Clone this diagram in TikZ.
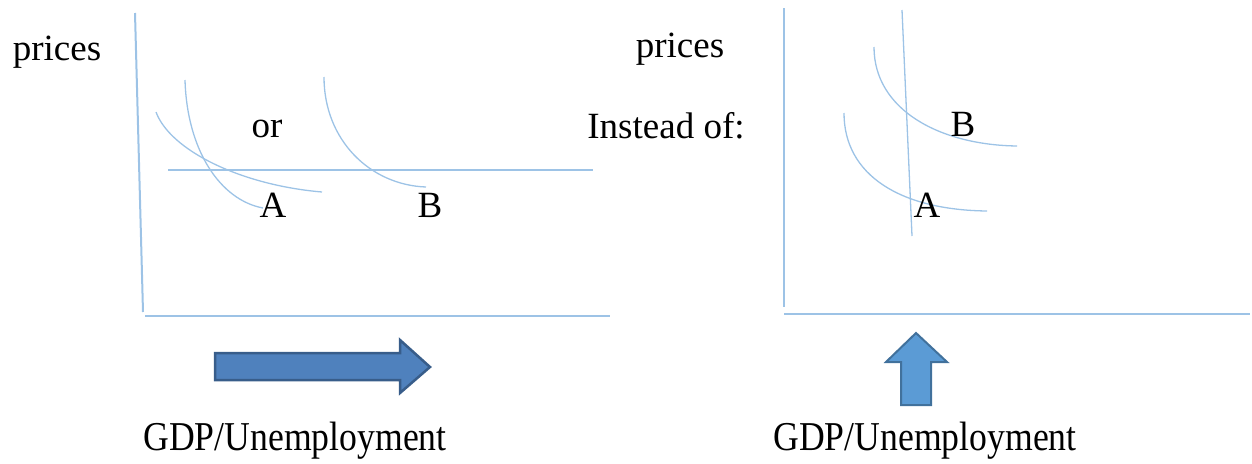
\documentclass[tikz,border=0pt]{standalone}
\usepackage{fontspec}
\setmainfont{Liberation Serif}
\definecolor{axisblue}{HTML}{9DC3E6}
\definecolor{curveblue}{HTML}{9DC3E6}
\definecolor{boldfill}{HTML}{4F81BD}
\definecolor{boldline}{HTML}{385D8A}
\definecolor{lightfill}{HTML}{5B9BD5}
\definecolor{lightline}{HTML}{41719C}
\begin{document}
\begin{tikzpicture}
  [x=1pt,y=-1pt,
   axis/.style={draw=axisblue,line width=2pt},
   curve/.style={draw=curveblue,line width=1.3pt},
   label/.style={anchor=base,inner sep=0pt,font=\fontsize{37}{40}\selectfont},
   tall label/.style={anchor=base,inner sep=0pt,font=\fontsize{41}{44}\selectfont},
   shift arrow/.style={line width=2.5pt,line join=miter}]
  \useasboundingbox (0,0) rectangle (1252,463);
  % left graph
  \draw[axis] (135,13) -- (143,312);
  \draw[axis] (145,316) -- (610,316);
  \draw[curve] (168,170) -- (593,170);
  \draw[curve] (156,112) .. controls (170,150) and (240,185) .. (322,192);
  \draw[curve] (185,80) .. controls (187,150) and (220,200) .. (263,208);
  \draw[curve] (324,77) .. controls (324,140) and (370,185) .. (426,187);
  \node[label] (prices left) at (57,60) {prices};
  \node[label] (or) at (267,137) {or};
  \node[label] (A left) at (273,217) {A};
  \node[label] (B left) at (430,217) {B};
  % right graph
  \draw[axis] (784,8) -- (784,307);
  \draw[axis] (784,314) -- (1250,314);
  \draw[curve] (902,10) -- (912,236);
  \draw[curve] (874,47) .. controls (874,110) and (940,145) .. (1017,146);
  \draw[curve] (844,113) .. controls (844,175) and (900,210) .. (987,211);
  \node[label] (prices right) at (680,57) {prices};
  \node[label] (instead) at (666,138) {Instead of:};
  \node[label] (B right) at (963,136) {B};
  \node[label] (A right) at (927,217) {A};
  % shift arrows
  \draw[shift arrow,fill=boldfill,draw=boldline]
    (215,353) -- (400,353) -- (400,340) -- (430,367) -- (400,393)
    -- (400,380) -- (215,380) -- cycle;
  \draw[shift arrow,fill=lightfill,draw=lightline,line width=2pt]
    (901,405) -- (901,362) -- (886,362) -- (916,333) -- (947,362)
    -- (931,362) -- (931,405) -- cycle;
  \node[tall label] (gdp left) at (295,450) {\scalebox{0.87}[1]{GDP/Unemployment}};
  \node[tall label] (gdp right) at (925,450) {\scalebox{0.87}[1]{GDP/Unemployment}};
\end{tikzpicture}
\end{document}
